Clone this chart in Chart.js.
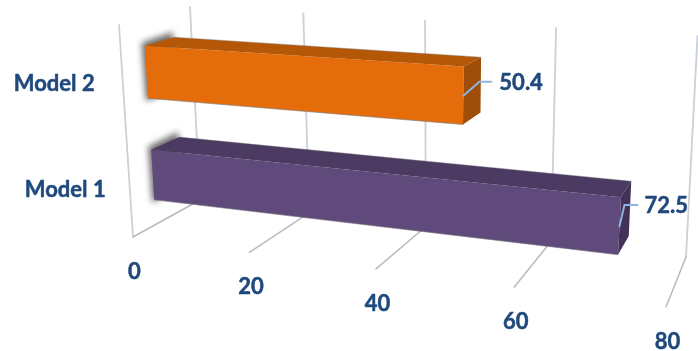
<!DOCTYPE html>
<html><head><meta charset="utf-8">
<style>html,body{margin:0;padding:0;background:#fff}canvas{display:block}</style>
<script src="https://cdn.jsdelivr.net/npm/chart.js@4"></script>
</head><body><canvas id="c" width="698" height="351"></canvas>
<script>
const categories = ['Model 1', 'Model 2'];
const values = [72.5, 50.4];
const tickValues = [0, 20, 40, 60, 80];
const frontColors = ['#604A7B', '#E46C0A'];
const topColors = ['#4B3A62', '#B45808'];
const sideColors = ['#423258', '#9E4E08'];

// Perspective frame: corners of the plot box (front and back plane)
const frontQuad = [[133,237],[666,307],[684,56],[119,25]];
const backQuad = [[200,200],[686,257],[697.5,36],[190,7]];
const barDepth = [0.34, 0.75];
const leaderOffsets = [[5,-21],[16,-14]];
const leaderEnds = [13,12];
const valueGap = [7,8];
const labelShift = [-24,-28];
const FONT = 'bold 22px Lato';
const TEXT = '#1F497D';

function homography(q){
  const [[x0,y0],[x1,y1],[x2,y2],[x3,y3]] = q;
  const dx1=x1-x2, dx2=x3-x2, sx=x0-x1+x2-x3;
  const dy1=y1-y2, dy2=y3-y2, sy=y0-y1+y2-y3;
  const den=dx1*dy2-dx2*dy1;
  const g=(sx*dy2-dx2*sy)/den, h=(dx1*sy-sx*dy1)/den;
  const a=x1-x0+g*x1, b=x3-x0+h*x3, d=y1-y0+g*y1, e=y3-y0+h*y3;
  return (u,t)=>{const w=g*u+h*t+1;return [(a*u+b*t+x0)/w,(d*u+e*t+y0)/w];};
}
const hFront=homography(frontQuad), hBack=homography(backQuad);
function project(u,t,z){
  const p=hFront(u,t), q=hBack(u,t);
  return [p[0]+(q[0]-p[0])*z, p[1]+(q[1]-p[1])*z];
}
function poly(ctx,pts,fill){
  ctx.beginPath();
  pts.forEach((p,i)=>i?ctx.lineTo(p[0],p[1]):ctx.moveTo(p[0],p[1]));
  ctx.closePath();
  ctx.fillStyle=fill;ctx.fill();
}
function line(ctx,pts,color,width){
  ctx.beginPath();
  pts.forEach((p,i)=>i?ctx.lineTo(p[0],p[1]):ctx.moveTo(p[0],p[1]));
  ctx.strokeStyle=color;ctx.lineWidth=width;ctx.stroke();
}
function label(ctx,s,x,y){
  ctx.lineWidth=0.5;ctx.strokeStyle=TEXT;ctx.lineJoin='round';
  ctx.strokeText(s,x,y);ctx.fillText(s,x,y);
}

const perspectivePlugin = {
  id:'perspective',
  beforeDatasetsDraw(chart){
    const ctx=chart.ctx, xs=chart.scales.x, area=chart.chartArea;
    const U=v=>(xs.getPixelForValue(v)-area.left)/(area.right-area.left);
    const T=y=>(area.bottom-y)/(area.bottom-area.top);
    ctx.save();
    ctx.lineCap='round';
    // walls and floor
    line(ctx,[project(0,1,0),project(0,0,0)],'#CBD0DA',1.8);
    tickValues.forEach(v=>{
      const u=U(v);
      line(ctx,[project(u,1,1),project(u,0,1)],'#CBD0DA',1.8);
      line(ctx,[project(u,0,0),project(u,0,1)],'#BABABA',1.5);
    });
    // bars
    const meta=chart.getDatasetMeta(0);
    const [z0,z1]=barDepth;
    meta.data.forEach((el,i)=>{
      const u0=U(0), u1=U(values[i]);
      const tTop=T(el.y-el.height/2), tBot=T(el.y+el.height/2);
      const fl=project(u0,tBot,z0), flt=project(u0,tTop,z0), blt=project(u0,tTop,z1), blb=project(u0,tBot,z1);
      const fr=project(u1,tBot,z0), frt=project(u1,tTop,z0), brt=project(u1,tTop,z1), brb=project(u1,tBot,z1);
      ctx.save();
      ctx.filter='blur(3px)';
      poly(ctx,[[fl[0]-2,fl[1]+3],[flt[0]-3,flt[1]-3],[blt[0]-1,blt[1]-5],[blb[0],blb[1]]],'rgba(40,40,40,0.7)');
      ctx.restore();
      poly(ctx,[flt,frt,fr,fl],frontColors[i]);
      poly(ctx,[flt,blt,brt,frt],topColors[i]);
      poly(ctx,[frt,brt,brb,fr],sideColors[i]);
      line(ctx,[fl,fr],'rgba(120,120,120,0.6)',1);
      line(ctx,[blt,brt],'rgba(120,120,120,0.5)',0.8);
    });
    // labels and leaders
    ctx.font=FONT;ctx.fillStyle=TEXT;ctx.textBaseline='middle';
    meta.data.forEach((el,i)=>{
      const u1=U(values[i]);
      const tm=T(el.y);
      const s=project(u1,tm,z0);
      const o=leaderOffsets[i];
      const e=[s[0]+o[0],s[1]+o[1]];
      const end=[e[0]+leaderEnds[i],e[1]];
      line(ctx,[s,e,end],'#8EB4E3',2);
      ctx.textAlign='left';
      label(ctx,values[i].toFixed(1),end[0]+valueGap[i],end[1]+1);
      const a=project(0,tm,0);
      ctx.textAlign='right';
      label(ctx,categories[i],a[0]+labelShift[i],a[1]+4);
    });
    ctx.textAlign='center';
    tickValues.forEach(v=>{
      const p=project(U(v),0,0);
      label(ctx,String(v),p[0]+1.5,p[1]+34.5);
    });
    ctx.restore();
  },
  beforeDatasetDraw(){return false;}
};

new Chart(document.getElementById('c'),{
  type:'bar',
  data:{labels:categories,datasets:[{data:values,backgroundColor:frontColors,barPercentage:0.5,categoryPercentage:1}]},
  options:{
    indexAxis:'y',responsive:false,animation:false,
    layout:{padding:0},
    plugins:{legend:{display:false},tooltip:{enabled:false}},
    scales:{
      x:{min:0,max:80,display:false},
      y:{reverse:true,display:false}
    }
  },
  plugins:[perspectivePlugin]
});
</script></body></html>
